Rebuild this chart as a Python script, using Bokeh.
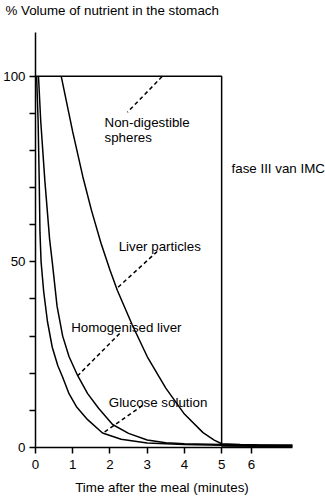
from bokeh.plotting import figure
from bokeh.models import FixedTicker, Label, Range1d, Title
from bokeh.embed import file_html
from bokeh.resources import INLINE

FONT = "Liberation Sans"
FS = "10pt"

# ---- data ----
x_ticks = [0, 1, 2, 3, 4, 5, 5.8]
x_tick_labels = ["0", "1", "2", "3", "4", "5", "6"]
y_ticks = [0, 50, 100]
y_minor_ticks = [10, 20, 30, 40, 60, 70, 80, 90]

glucose_t = [0.03, 0.07, 0.10, 0.12, 0.15, 0.22, 0.32, 0.45, 0.60, 0.73, 0.90, 1.10, 1.40, 1.80, 2.30, 3.00, 4.00, 5.00, 6.00, 6.90]
glucose_v = [100, 88, 72, 58, 50, 42, 34, 27, 22, 18.9, 14.5, 11, 7.5, 3.9, 2.2, 1.2, 0.8, 0.6, 0.5, 0.4]

homog_t = [0.08, 0.14, 0.25, 0.38, 0.45, 0.58, 0.73, 0.90, 1.13, 1.40, 1.70, 2.07, 2.50, 3.00, 3.50, 4.00, 5.00, 6.00, 6.90]
homog_v = [100, 88, 72, 56, 50, 38, 30, 24.5, 19.4, 14.5, 10.5, 6.2, 3.8, 2.0, 1.3, 1.0, 0.8, 0.7, 0.6]

liver_t = [0.69, 1.00, 1.27, 1.50, 1.76, 2.00, 2.20, 2.60, 3.00, 3.50, 4.00, 4.50, 4.80, 5.00, 5.50, 6.00, 6.90]
liver_v = [100, 85, 73, 64, 55, 47.8, 42.3, 33, 24.5, 16, 9, 4, 2, 1.0, 0.8, 0.7, 0.6]

spheres_t = [0, 5, 5, 6.9]
spheres_v = [100, 100, 0.4, 0.3]

# leader lines (label -> curve)
lead_x0 = [3.40, 3.27, 2.26, 2.87]
lead_y0 = [99.9, 52.8, 30.7, 11.3]
lead_x1 = [2.47, 2.18, 1.14, 1.81]
lead_y1 = [90.3, 42.8, 19.4, 3.85]

label_text = ["Non-digestible", "spheres", "Liver particles", "Homogenised liver", "Glucose solution", "fase III van IMC"]
label_x = [1.854, 1.854, 2.234, 0.957, 1.968, 5.266]
label_y = [87.45, 83.4, 54.0, 32.45, 12.25, 75.1]

y_title = "% Volume of nutrient in the stomach"
x_title = "Time after the meal (minutes)"

# ---- figure ----
p = figure(width=325, height=498, output_backend="svg", toolbar_location=None,
           x_range=Range1d(0, 7.79), y_range=Range1d(0, 115.27),
           min_border_left=32, min_border_right=0, min_border_top=19, min_border_bottom=51)
p.outline_line_color = None
p.grid.visible = False
p.background_fill_color = "white"
p.border_fill_color = "white"

for ax in (p.xaxis[0], p.yaxis[0]):
    ax.axis_line_width = 1.5
    ax.major_tick_line_width = 1.5
    ax.minor_tick_line_width = 1.5
    ax.major_tick_in = 0
    ax.major_tick_out = 6
    ax.minor_tick_in = 0
    ax.major_label_text_font = FONT
    ax.major_label_text_font_size = FS
    ax.major_label_text_color = "black"
    ax.axis_line_color = "black"
    ax.major_tick_line_color = "black"
    ax.minor_tick_line_color = "black"

p.xaxis.ticker = FixedTicker(ticks=x_ticks)
p.xaxis.major_label_overrides = {t: l for t, l in zip(x_ticks, x_tick_labels)}
p.xaxis.minor_tick_out = 0
p.xaxis.bounds = (0, 6.9)
p.xaxis.major_label_standoff = 6
# trailing no-break spaces shift the frame-centred label to where the reference has it
p.xaxis.axis_label = x_title + "\u00a0" * 10
p.xaxis.axis_label_text_font = FONT
p.xaxis.axis_label_text_font_size = FS
p.xaxis.axis_label_text_font_style = "normal"
p.xaxis.axis_label_text_color = "black"
p.xaxis.axis_label_standoff = 8

p.yaxis.ticker = FixedTicker(ticks=y_ticks, minor_ticks=y_minor_ticks)
p.yaxis.minor_tick_out = 6
p.yaxis.bounds = (0, 111.85)
p.yaxis.major_label_standoff = 4

for t, v in ((spheres_t, spheres_v), (liver_t, liver_v), (homog_t, homog_v), (glucose_t, glucose_v)):
    p.line(t, v, line_color="black", line_width=1.5)

p.segment(lead_x0, lead_y0, lead_x1, lead_y1, line_color="black", line_width=1.5, line_dash="4 3")

for txt, lx, ly in zip(label_text, label_x, label_y):
    p.add_layout(Label(x=lx, y=ly, text=txt, text_font=FONT, text_font_size=FS,
                       text_color="black", text_baseline="alphabetic", text_align="left"))

p.add_layout(Title(text=y_title, align="left", offset=-30, vertical_align="top", standoff=0,
                   text_font=FONT, text_font_size=FS, text_font_style="normal",
                   text_color="black"), "above")

open("out.html", "w").write(file_html(p, INLINE))
